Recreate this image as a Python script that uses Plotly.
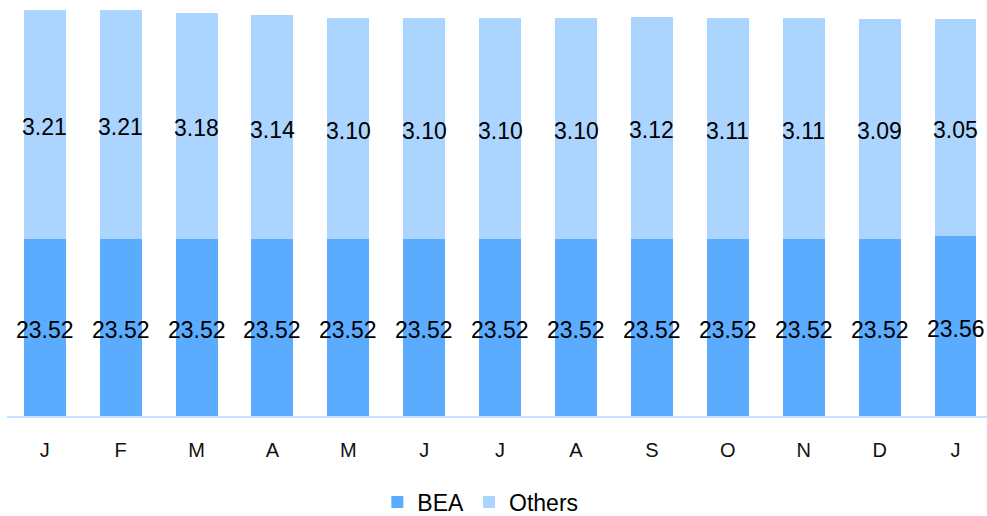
import plotly.graph_objects as go

# Month initials along the category axis
months = ["J", "F", "M", "A", "M", "J", "J", "A", "S", "O", "N", "D", "J"]

# Stacked series values
bea = [23.52, 23.52, 23.52, 23.52, 23.52, 23.52, 23.52, 23.52, 23.52, 23.52, 23.52, 23.52, 23.56]
others = [3.21, 3.21, 3.18, 3.14, 3.10, 3.10, 3.10, 3.10, 3.12, 3.11, 3.11, 3.09, 3.05]

BEA_COLOR = "#5BABFF"
OTHERS_COLOR = "#ABD5FF"
FONT_FAMILY = "Tahoma, 'Liberation Sans', Arial, sans-serif"
LABEL_FONT = dict(family=FONT_FAMILY, size=23, color="#000000")

# Value axis starts above zero, so the visible part of each stack is trimmed
y_min = 21.03
y_max = 26.877

x = list(range(len(months)))

fig = go.Figure()
fig.add_trace(go.Bar(x=x, y=bea, name="BEA", marker=dict(color=BEA_COLOR, line=dict(width=0))))
fig.add_trace(go.Bar(x=x, y=others, name="Others", marker=dict(color=OTHERS_COLOR, line=dict(width=0))))

# Segment labels centred in the visible part of each segment
for xi, b, o in zip(x, bea, others):
    fig.add_annotation(x=xi, y=(max(y_min, 0) + b) / 2, text=f"{b:.2f}",
                       showarrow=False, font=LABEL_FONT, yshift=-2.5)
    fig.add_annotation(x=xi, y=b + o / 2, text=f"{o:.2f}",
                       showarrow=False, font=LABEL_FONT, yshift=-2.5)

fig.update_layout(
    width=987,
    height=516,
    barmode="stack",
    bargap=0.447,
    plot_bgcolor="white",
    paper_bgcolor="white",
    margin=dict(l=7, r=0, t=0, b=100),
    font=dict(family=FONT_FAMILY, color="#000000"),
    legend=dict(
        orientation="h",
        x=0.483, xanchor="center",
        yref="container", y=0.027, yanchor="middle",
        font=dict(size=23, color="#000000"),
        traceorder="normal",
    ),
)

fig.update_xaxes(
    range=[-0.497, 12.415],
    tickvals=x,
    ticktext=months,
    tickfont=dict(size=20, color="#111111"),
    showgrid=False,
    zeroline=False,
    showline=True,
    linecolor="#C6E0FF",
    linewidth=2,
    ticks="",
    ticklabelstandoff=15,
)
fig.update_yaxes(
    range=[y_min, y_max],
    visible=False,
    showgrid=False,
    zeroline=False,
)

fig.write_html("out.html")
